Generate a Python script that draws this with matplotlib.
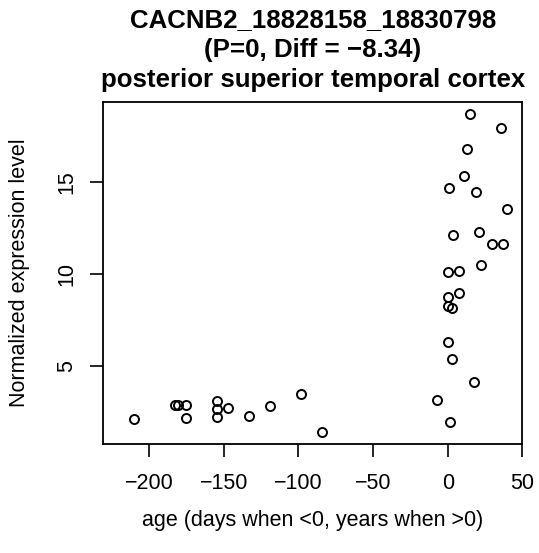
import matplotlib
matplotlib.use("Agg")
import matplotlib.pyplot as plt

plt.rcParams['font.family'] = ['Liberation Sans', 'DejaVu Sans']

# prenatal samples (age in days, negative)
age_pre = [-210.5, -182.6, -181.0, -175.2, -175.2, -154.4, -154.4, -154.4,
           -147.0, -133.2, -119.3, -98.3, -84.2]
expr_pre = [2.11, 2.90, 2.90, 2.90, 2.19, 3.10, 2.67, 2.25,
            2.74, 2.30, 2.85, 3.46, 1.44]

# postnatal samples (age in years)
age_post = [14.7, 35.7, 12.9, 10.7, 0.9, 18.8, 39.7, 3.8, 20.8, 29.7, 37.1,
            0.4, 7.8, 22.5, 0.4, 7.8, 0.0, 3.1, 0.4, 2.7, 17.8, -7.0, 1.7]
expr_post = [18.66, 17.90, 16.79, 15.33, 14.67, 14.44, 13.54, 12.11, 12.25,
             11.62, 11.62, 10.12, 10.17, 10.46, 8.73, 8.98, 8.26, 8.16,
             6.32, 5.38, 4.12, 3.16, 1.98]

xticks = [-200, -150, -100, -50, 0, 50]
yticks = [5, 10, 15]

W, H = 539, 553
fs = 15.5

fig = plt.figure(figsize=(W/100, H/100), dpi=100)
ax = fig.add_axes([103.3/W, 1-444.3/H, (522.3-103.3)/W, (444.3-101.7)/H])

ax.plot(age_pre + age_post, expr_pre + expr_post, 'o', mfc='none', mec='black',
        ms=6.5, mew=1.4, ls='none')

ax.set_xlim(-230.8, 50)
ax.set_ylim(0.75, 19.34)
ax.set_xticks(xticks)
ax.set_xticklabels([str(t).replace('-', '\u2212') for t in xticks])
ax.set_yticks(yticks)
ax.set_yticklabels([str(t) for t in yticks], rotation=90, va='center')
ax.tick_params(axis='both', direction='out', length=9.4, width=1.2, labelsize=fs)
ax.tick_params(axis='x', pad=11.5)
ax.tick_params(axis='y', pad=9.5)
for s in ax.spines.values():
    s.set_linewidth(1.3)

title_lines = ["CACNB2_18828158_18830798", "(P=0, Diff = \u22128.34)",
               "posterior superior temporal cortex"]
for txt, yb in zip(title_lines, [27, 57, 87]):
    fig.text(312.8/W, 1-yb/H, txt, ha='center', va='baseline',
             fontsize=fs*1.2, fontweight='bold')

fig.text(312.8/W, 1-526/H, "age (days when <0, years when >0)", ha='center',
         va='baseline', fontsize=fs)
fig.text(25/W, 1-273/H, "Normalized expression level", ha='center', va='baseline',
         fontsize=fs, rotation=90, rotation_mode='anchor')

fig.savefig("out.png", dpi=100)
